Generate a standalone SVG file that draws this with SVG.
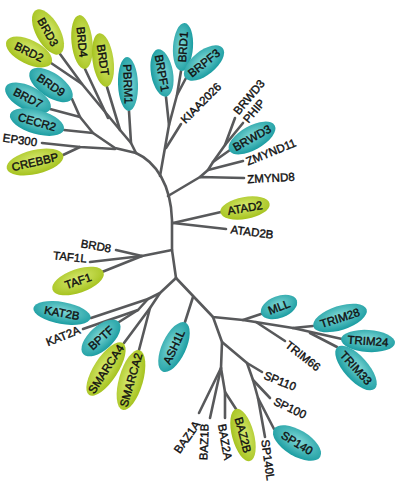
<svg xmlns="http://www.w3.org/2000/svg" width="400" height="483" viewBox="0 0 400 483">
<defs>
<radialGradient id="gt" cx="50%" cy="40%" r="60%">
<stop offset="0" stop-color="#80d8d6"/>
<stop offset="1" stop-color="#1a9ca1"/>
</radialGradient>
<radialGradient id="gg" cx="50%" cy="40%" r="60%">
<stop offset="0" stop-color="#d6e96e"/>
<stop offset="1" stop-color="#a5c21e"/>
</radialGradient>
</defs>
<style>
.t ellipse{fill:url(#gt)}
.g ellipse{fill:url(#gg)}
text{font-family:"Liberation Sans",Arial,sans-serif;font-size:11.5px;fill:#111;stroke:#111;stroke-width:0.4;text-anchor:middle;dominant-baseline:central}
#edges path{fill:none;stroke:#58595b;stroke-width:2.6;stroke-linecap:round;stroke-linejoin:round}
</style>
<rect width="400" height="483" fill="#fff"/>
<g id="edges">
<path d="M136,153 C156,162 171,185 172,220 L172,250 L176,278"/>
<path d="M51,63 L82,84 L120,130 L131,143 L136,153"/>
<path d="M60,54 L82,84"/>
<path d="M85,69 L108,118"/>
<path d="M107,87 L120,130"/>
<path d="M129,111 L131,143"/>
<path d="M50,109 L80,117 L93,133 L115,148 L136,153"/>
<path d="M72,99 L80,117"/>
<path d="M64,130 L93,133"/>
<path d="M42,143 L80,147 L115,149"/>
<path d="M63,155 L80,147"/>
<path d="M181,71 L177,95 L169,125 L160,176"/>
<path d="M186,78 L177,95"/>
<path d="M166,97 L169,125"/>
<path d="M181,124 L166,148"/>
<path d="M168,196 L200,177 L244,178"/>
<path d="M200,177 L208,170 L213,162 L225,145 L235,118"/>
<path d="M208,170 L243,161"/>
<path d="M213,162 L230,150"/>
<path d="M225,145 L243,123"/>
<path d="M173,223 L221,212"/>
<path d="M173,223 L226,229"/>
<path d="M172,250 L142,256 L116,250"/>
<path d="M142,256 L90,262"/>
<path d="M142,256 L102,272"/>
<path d="M176,278 L160,293 L148,299 L91,318"/>
<path d="M148,299 L138,310 L83,329"/>
<path d="M138,310 L119,322"/>
<path d="M160,293 L150,308 L124,343"/>
<path d="M150,308 L139,350"/>
<path d="M176,278 L213,317 L243,320 L293,328 L342,339"/>
<path d="M193,297 L185,322"/>
<path d="M243,320 L261,314"/>
<path d="M293,328 L313,326"/>
<path d="M310,333 L337,347"/>
<path d="M256,322 L285,341"/>
<path d="M213,317 L222,342 L221,368 L199,413"/>
<path d="M221,368 L210,418"/>
<path d="M221,368 L225,392 L225,418"/>
<path d="M225,392 L236,409"/>
<path d="M222,342 L247,363 L262,372"/>
<path d="M247,363 L253,380 L270,398"/>
<path d="M253,380 L258,398 L274,429"/>
<path d="M258,398 L265,437"/>
</g>
<g id="BRD3" class="g" transform="translate(48,32) rotate(61)"><ellipse rx="25" ry="12"/><text>BRD3</text></g>
<g id="BRD2" class="g" transform="translate(29,52) rotate(26)"><ellipse rx="25" ry="12"/><text>BRD2</text></g>
<g id="BRD4" class="g" transform="translate(82,42) rotate(84)"><ellipse rx="27" ry="10.5"/><text>BRD4</text></g>
<g id="BRDT" class="g" transform="translate(103,60) rotate(82)"><ellipse rx="27" ry="10.5"/><text>BRDT</text></g>
<g id="PBRM1" class="t" transform="translate(128,84) rotate(88)"><ellipse rx="27" ry="10"/><text>PBRM1</text></g>
<g id="BRD9" class="t" transform="translate(51,85) rotate(34)"><ellipse rx="25" ry="12"/><text>BRD9</text></g>
<g id="BRD7" class="t" transform="translate(28,98) rotate(27)"><ellipse rx="25" ry="12"/><text>BRD7</text></g>
<g id="CECR2" class="t" transform="translate(37,122) rotate(16)"><ellipse rx="28" ry="12"/><text>CECR2</text></g>
<g id="EP300" transform="translate(20,140) rotate(8)"><text>EP300</text></g>
<g id="CREBBP" class="g" transform="translate(35,162) rotate(-13)"><ellipse rx="29" ry="12"/><text>CREBBP</text></g>
<g id="BRPF1" class="t" transform="translate(162,73) rotate(80)"><ellipse rx="24" ry="11"/><text>BRPF1</text></g>
<g id="BRD1" class="t" transform="translate(183,47) rotate(-86)"><ellipse rx="24" ry="10"/><text>BRD1</text></g>
<g id="BRPF3" class="t" transform="translate(204,63) rotate(-39)"><ellipse rx="24" ry="12"/><text>BRPF3</text></g>
<g id="KIAA2026" transform="translate(201,103) rotate(-45)"><text>KIAA2026</text></g>
<g id="BRWD3-label" transform="translate(249,97) rotate(-50)"><text>BRWD3</text></g>
<g id="PHIP" transform="translate(254,111) rotate(-50)"><text>PHIP</text></g>
<g id="BRWD3" class="t" transform="translate(252,138) rotate(-29)"><ellipse rx="26" ry="12"/><text>BRWD3</text></g>
<g id="ZMYND11" transform="translate(271,152) rotate(-22)"><text>ZMYND11</text></g>
<g id="ZMYND8" transform="translate(271,178) rotate(-3)"><text>ZMYND8</text></g>
<g id="ATAD2" class="g" transform="translate(245,208) rotate(-10)"><ellipse rx="25" ry="11"/><text>ATAD2</text></g>
<g id="ATAD2B" transform="translate(252,232) rotate(7)"><text>ATAD2B</text></g>
<g id="BRD8" transform="translate(96,246) rotate(10)"><text>BRD8</text></g>
<g id="TAF1L" transform="translate(70,257) rotate(6)"><text>TAF1L</text></g>
<g id="TAF1" class="g" transform="translate(78,281) rotate(-19)"><ellipse rx="27" ry="12"/><text>TAF1</text></g>
<g id="KAT2B" class="t" transform="translate(62,313) rotate(10)"><ellipse rx="29" ry="11"/><text>KAT2B</text></g>
<g id="KAT2A" transform="translate(63,336) rotate(-22)"><text>KAT2A</text></g>
<g id="BPTF" class="t" transform="translate(101,338) rotate(-42)"><ellipse rx="24" ry="12"/><text>BPTF</text></g>
<g id="SMARCA4" class="g" transform="translate(106,369) rotate(-57)"><ellipse rx="31" ry="12"/><text>SMARCA4</text></g>
<g id="SMARCA2" class="g" transform="translate(131,380) rotate(-74)"><ellipse rx="31" ry="12"/><text>SMARCA2</text></g>
<g id="ASH1L" class="t" transform="translate(174,347) rotate(-65)"><ellipse rx="27" ry="12"/><text>ASH1L</text></g>
<g id="MLL" class="t" transform="translate(279,307) rotate(-21)"><ellipse rx="19" ry="11"/><text>MLL</text></g>
<g id="TRIM28" class="t" transform="translate(340,318) rotate(-18)"><ellipse rx="28" ry="12"/><text>TRIM28</text></g>
<g id="TRIM24" class="t" transform="translate(368,341) rotate(4)"><ellipse rx="27" ry="11"/><text>TRIM24</text></g>
<g id="TRIM33" class="t" transform="translate(356,368) rotate(48)"><ellipse rx="28" ry="12"/><text>TRIM33</text></g>
<g id="TRIM66" transform="translate(303,356) rotate(38)"><text>TRIM66</text></g>
<g id="SP110" transform="translate(280,381) rotate(22)"><text>SP110</text></g>
<g id="SP100" transform="translate(290,408) rotate(25)"><text>SP100</text></g>
<g id="SP140" class="t" transform="translate(297,443) rotate(31)"><ellipse rx="27" ry="13"/><text>SP140</text></g>
<g id="SP140L" transform="translate(268,460) rotate(82)"><text>SP140L</text></g>
<g id="BAZ2B" class="g" transform="translate(243,435) rotate(75)"><ellipse rx="27" ry="11"/><text>BAZ2B</text></g>
<g id="BAZ2A" transform="translate(225,442) rotate(80)"><text>BAZ2A</text></g>
<g id="BAZ1B" transform="translate(204,442) rotate(-88)"><text>BAZ1B</text></g>
<g id="BAZ1A" transform="translate(187,437) rotate(-55)"><text>BAZ1A</text></g>
</svg>
